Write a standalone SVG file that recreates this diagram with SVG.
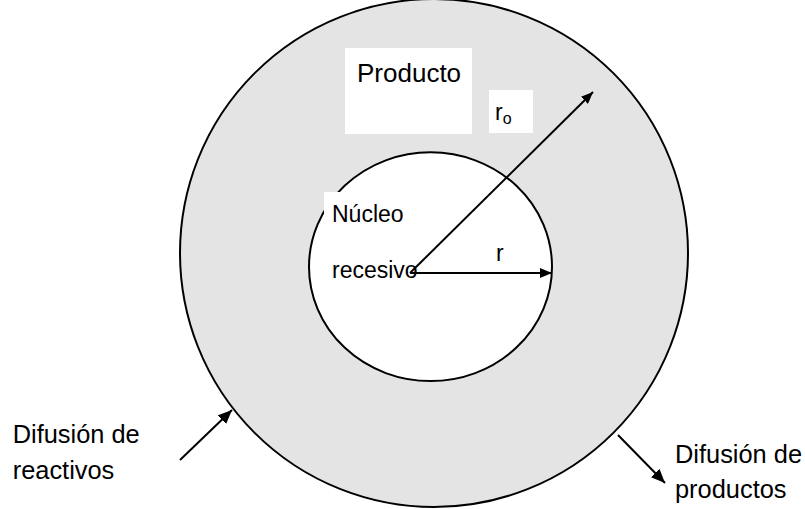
<svg xmlns="http://www.w3.org/2000/svg" width="805" height="509" viewBox="0 0 805 509">
<defs>
<style>
.t{font-family:"Liberation Sans",Arial,sans-serif;fill:#000}
.ln{stroke:#000;stroke-width:2;fill:none}
.bx{fill:#fff;stroke:none}
</style>
<marker id="ah" markerUnits="userSpaceOnUse" markerWidth="16" markerHeight="12" refX="14" refY="6" orient="auto"><path d="M0,0 L14,6 L0,12 Z" fill="#000"/></marker>
<marker id="ahs" markerUnits="userSpaceOnUse" markerWidth="14" markerHeight="10" refX="12" refY="5" orient="auto"><path d="M0,0 L12,5 L0,10 Z" fill="#000"/></marker>
</defs>
<rect width="805" height="509" fill="#fff"/>
<g id="particle">
<circle cx="434" cy="253" r="254" fill="#e4e4e4" stroke="#000" stroke-width="2"/>
</g>
<g id="core">
<ellipse cx="430.5" cy="266.7" rx="121.5" ry="114.4" fill="#fff" stroke="#000" stroke-width="2"/>
</g>
<g id="label-producto">
<rect class="bx" x="345" y="48" width="127" height="86"/>
<text class="t" x="357" y="82" font-size="26">Producto</text>
</g>
<g id="label-ro">
<rect class="bx" x="489" y="90" width="44" height="43"/>
<text class="t" x="495" y="120" font-size="23">r<tspan font-size="16" dy="4">o</tspan></text>
</g>
<g id="label-nucleo">
<rect class="bx" x="324" y="192" width="90" height="95"/>
<text class="t" x="332" y="222" font-size="23">Núcleo</text>
<text class="t" x="332" y="278" font-size="23">recesivo</text>
</g>
<g id="label-r">
<text class="t" x="496" y="261" font-size="23">r</text>
</g>
<g id="label-reactivos">
<text class="t" x="12.7" y="443" font-size="25.4">Difusión de</text>
<text class="t" x="12.7" y="479" font-size="25.4">reactivos</text>
</g>
<g id="label-productos">
<text class="t" x="675" y="463" font-size="25.4">Difusión de</text>
<text class="t" x="675" y="498" font-size="25.4">productos</text>
</g>
<g id="connectors">
<line class="ln" x1="410" y1="273" x2="593" y2="92" marker-end="url(#ahs)"/>
<line class="ln" x1="410" y1="273" x2="552" y2="273" marker-end="url(#ahs)"/>
<line class="ln" x1="180" y1="460" x2="232" y2="410" marker-end="url(#ah)"/>
<line class="ln" x1="618" y1="435" x2="665" y2="483" marker-end="url(#ah)"/>
</g>
</svg>
